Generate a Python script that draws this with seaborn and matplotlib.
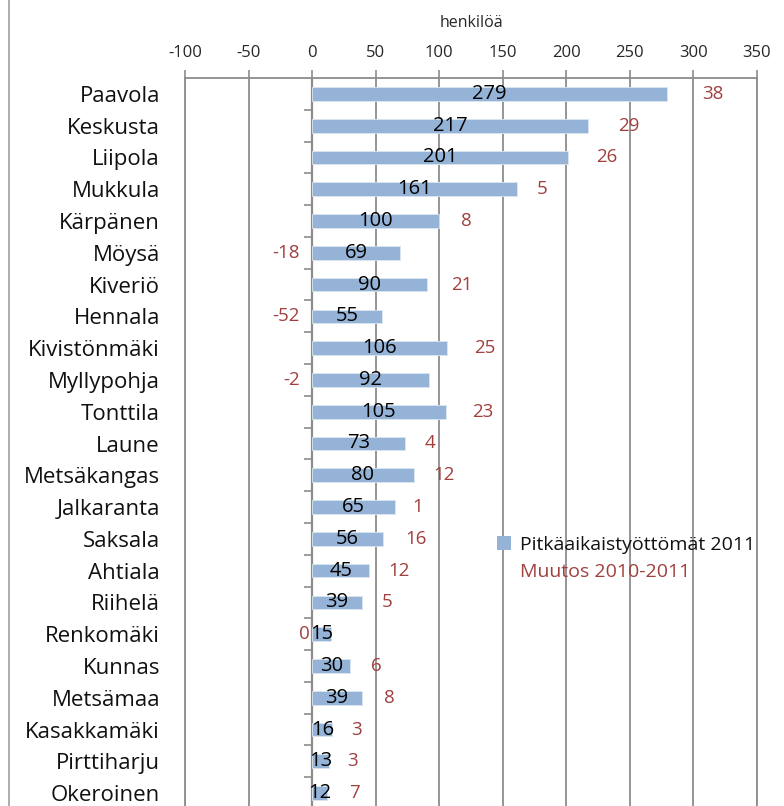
import numpy as np
import pandas as pd
import matplotlib
matplotlib.use("Agg")
import matplotlib.pyplot as plt
from matplotlib.patches import Patch
from matplotlib.lines import Line2D
import seaborn as sns

categories = ["Paavola", "Keskusta", "Liipola", "Mukkula", "Kärpänen", "Möysä",
              "Kiveriö", "Hennala", "Kivistönmäki", "Myllypohja", "Tonttila", "Laune",
              "Metsäkangas", "Jalkaranta", "Saksala", "Ahtiala", "Riihelä", "Renkomäki",
              "Kunnas", "Metsämaa", "Kasakkamäki", "Pirttiharju", "Okeroinen"]
values_2011 = [279, 217, 201, 161, 100, 69, 90, 55, 106, 92, 105, 73, 80, 65, 56,
               45, 39, 15, 30, 39, 16, 13, 12]
change_2010_2011 = [38, 29, 26, 5, 8, -18, 21, -52, 25, -2, 23, 4, 12, 1, 16,
                    12, 5, 0, 6, 8, 3, 3, 7]
x_ticks = [-100, -50, 0, 50, 100, 150, 200, 250, 300, 350]
series_label = "Pitkäaikaistyöttömät 2011"
change_label = "Muutos 2010-2011"
axis_title = "henkilöä"

BAR = "#95B3D7"
RED = "#A0403E"
GRID = "#8C8C8C"

sns.set_theme(style="white")
plt.rcParams["font.family"] = ["Open Sans", "DejaVu Sans"]
plt.rcParams["axes.unicode_minus"] = False

df = pd.DataFrame({"alue": categories, "arvo": values_2011, "muutos": change_2010_2011})

fig = plt.figure(figsize=(7.84, 8.06), dpi=100)
ax = fig.add_axes([185 / 784, -3 / 806, (757 - 185) / 784, (809 - 78) / 806])

sns.barplot(data=df, x="arvo", y="alue", orient="h", color=BAR, width=0.43,
            saturation=1, ax=ax, edgecolor="#DCE6F2", linewidth=0.6, zorder=3)

ax.set_xlim(x_ticks[0], x_ticks[-1])
ax.set_ylim(len(categories) - 0.5, -0.5)
ax.set_xticks(x_ticks)
ax.xaxis.tick_top()
ax.xaxis.set_label_position("top")
ax.set_xlabel(axis_title, fontsize=11.5, labelpad=13)
ax.set_ylabel("")
ax.tick_params(axis="x", top=True, direction="out", length=6, width=1.2,
               color=GRID, labelsize=12, pad=6)
ax.tick_params(axis="y", left=False, length=0, labelsize=16, pad=18)
for lab in ax.get_yticklabels():
    lab.set_color("#111111")

ax.grid(axis="x", color=GRID, linewidth=1.3, zorder=0)
ax.grid(axis="y", visible=False)
ax.spines["bottom"].set_visible(False)
for side in ["top", "left", "right"]:
    ax.spines[side].set_visible(True)
    ax.spines[side].set_color(GRID)
    ax.spines[side].set_linewidth(1.3)

# category axis crossing at 0
sec = ax.secondary_yaxis((0 - x_ticks[0]) / (x_ticks[-1] - x_ticks[0]))
sec.set_yticks(np.arange(0.5, len(categories) - 0.5, 1.0))
sec.tick_params(axis="y", direction="out", length=6, width=1.2, color=GRID,
                labelleft=False, labelright=False)
sec.spines["left"].set_color(GRID)
sec.spines["left"].set_linewidth(1.6)

# value labels
for i, (v, c) in enumerate(zip(values_2011, change_2010_2011)):
    ax.text(v / 2, i, str(v), ha="center", va="center", fontsize=14.5,
            color="#000000", zorder=5)
    if c > 0:
        ax.annotate(str(c), xy=(v + c / 2, i), xytext=(16, 0),
                    textcoords="offset points", ha="center", va="center",
                    fontsize=13.5, color=RED, zorder=5)
    else:
        off = -9 if c < 0 else -1.5
        ax.annotate(str(c), xy=(0, i), xytext=(off, 0),
                    textcoords="offset points", ha="right", va="center",
                    fontsize=13.5, color=RED, zorder=5)

handles = [Patch(facecolor=BAR, edgecolor="none"),
           Patch(facecolor="none", edgecolor="none")]
leg = ax.legend(handles=handles, labels=[series_label, change_label],
                loc="upper left", bbox_to_anchor=(497 / 784, 1 - 536 / 806),
                bbox_transform=fig.transFigure, frameon=False, fontsize=14,
                handlelength=0.72, handleheight=0.72, handletextpad=0.45,
                labelspacing=0.45, borderpad=0, borderaxespad=0)
leg.get_texts()[1].set_color(RED)
leg.get_texts()[0].set_color("#111111")

fig.add_artist(Line2D([8.5 / 784, 8.5 / 784], [0, 1], transform=fig.transFigure,
                      color="#A0A0A0", linewidth=1.2))

fig.savefig("out.png", dpi=100)
